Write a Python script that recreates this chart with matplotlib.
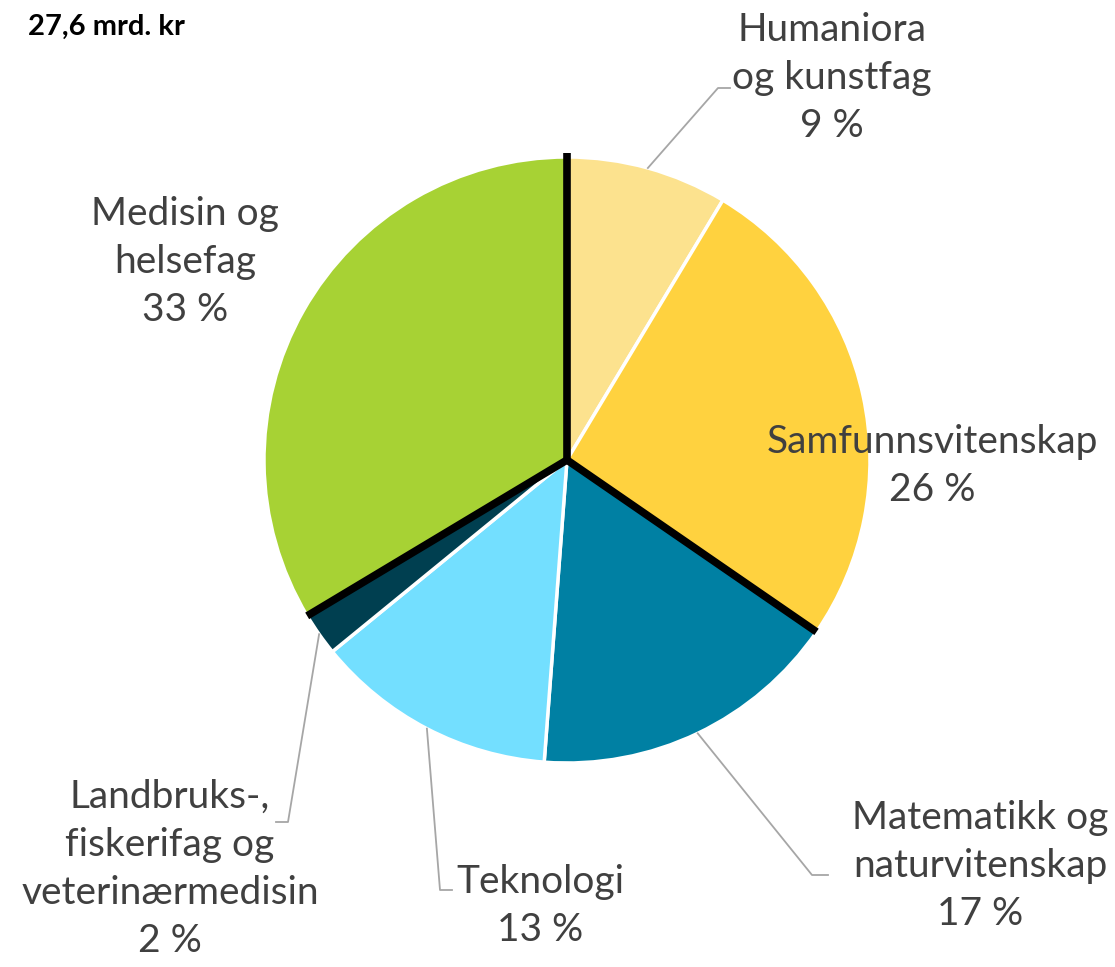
import numpy as np
import matplotlib.pyplot as plt

# DATA
fag = ['Humaniora\nog kunstfag', 'Samfunnsvitenskap', 'Matematikk og\nnaturvitenskap',
       'Teknologi', 'Landbruks-,\nfiskerifag og\nveterinærmedisin', 'Medisin og\nhelsefag']
andel = [8.6, 26.0, 16.6, 12.9, 2.3, 33.6]
pst_tekst = ['9 %', '26 %', '17 %', '13 %', '2 %', '33 %']
farger = ['#FCE28E', '#FFD23F', '#0080A3', '#73DFFF', '#003F50', '#A7D234']
tittel = '27,6 mrd. kr'

# LAYOUT (pixel coords, y up)
W, H = 1115, 967
cx, cy, r = 567, H - 460, 303
lab_pos = [(832, H - 78), (932, H - 466), (980, H - 866), (540, H - 906), (170, H - 869), (185, H - 262)]
leader_end = [[(718, H - 88), (730, H - 88)], None, [(812, H - 875), (828, H - 875)],
              [(440, H - 890), (452, H - 890)], [(288, H - 822), (276, H - 822)], None]

plt.rcParams['font.family'] = ['Lato', 'DejaVu Sans']
fig = plt.figure(figsize=(W / 100, H / 100), dpi=100)
ax = fig.add_axes([0, 0, 1, 1])
ax.axis('off')

ax.pie(andel, colors=farger, startangle=90, counterclock=False, center=(cx, cy), radius=r,
       wedgeprops=dict(edgecolor='white', linewidth=2.5))
ax.set_xlim(0, W)
ax.set_ylim(0, H)
ax.set_aspect('equal')

# black group separators
cum = np.concatenate([[0], np.cumsum(andel)]) / sum(andel)
for i in [0, 2, 5]:
    a = np.pi / 2 - 2 * np.pi * cum[i]
    rr = r + 4 if i == 0 else r
    ax.plot([cx, cx + rr * np.cos(a)], [cy, cy + rr * np.sin(a)], color='black', lw=5.5,
            solid_capstyle='butt', zorder=5)

# labels and leader lines
for i in range(len(fag)):
    ax.text(lab_pos[i][0], lab_pos[i][1], fag[i] + '\n' + pst_tekst[i], ha='center', va='center',
            fontsize=28, color='#404040', linespacing=1.42)
    if leader_end[i] is not None:
        a = np.pi / 2 - 2 * np.pi * (cum[i] + cum[i + 1]) / 2
        pts = [(cx + r * np.cos(a), cy + r * np.sin(a))] + leader_end[i]
        xs, ys = zip(*pts)
        ax.plot(xs, ys, color='#A6A6A6', lw=1.3, zorder=1)

ax.text(28, H - 27, tittel, ha='left', va='center', fontsize=21, fontweight='bold', color='black')

plt.savefig('out.png', dpi=100)
